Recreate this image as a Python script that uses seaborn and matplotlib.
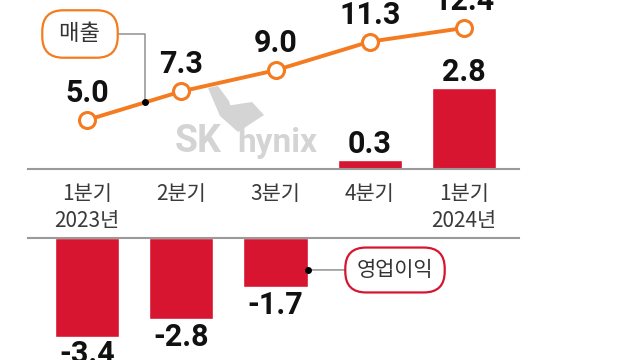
import numpy as np
import pandas as pd
import seaborn as sns
import matplotlib.pyplot as plt
from matplotlib.patches import Polygon

sns.set_style("white")
plt.rcParams["font.family"] = ["Noto Sans CJK KR", "DejaVu Sans"]

# Data (조원)
quarters = ["1분기\n2023년", "2분기", "3분기", "4분기", "1분기\n2024년"]
sales = [5.0, 7.3, 9.0, 11.3, 12.4]        # 매출
op_profit = [-3.4, -2.8, -1.7, 0.3, 2.8]   # 영업이익

ORANGE = "#F47B20"
RED = "#D71530"
AXIS_GRAY = "#9a9a9a"
NUM_FONT = ["Roboto", "DejaVu Sans"]
W, H = 640, 360


def fx(x):
    return x / W


def fy(y):
    return 1 - y / H


df = pd.DataFrame({"quarter": quarters, "sales": sales, "profit": op_profit})

fig = plt.figure(figsize=(6.4, 3.6), dpi=100)
fig.patch.set_facecolor("white")

# layout in pixels of the original graphic
left, right = 28, 519
base_top, base_bot = 169, 238
unit = 29  # px per 1조 for the bars
step = 94.25
x0 = 87
xlim = ((left - x0) / step, (right - x0) / step)

ax_top = fig.add_axes([fx(left), fy(base_top), (right - left) / W, base_top / H])
ax_bot = fig.add_axes([fx(left), 0, (right - left) / W, (H - base_bot) / H])

# watermark logo behind everything
wm = "#d4d4d4"
fig.text(fx(175), fy(152), "SK", color=wm, fontsize=27, fontweight="bold",
         family=NUM_FONT, va="baseline", ha="left", zorder=-2)
fig.text(fx(237), fy(152), "hynix", color=wm, fontsize=24, fontweight="bold",
         family=NUM_FONT, va="baseline", ha="left", zorder=-2)
for pts in ([(208, 88), (218, 86), (229, 101), (238, 132), (220, 116)],
            [(226, 106), (252, 102), (264, 115), (238, 132)]):
    fig.patches.append(Polygon([(fx(a), fy(b)) for a, b in pts], closed=True,
                               transform=fig.transFigure, fc=wm, ec="none", zorder=-2))

for ax in (ax_top, ax_bot):
    ax.set_facecolor("none")
    sns.barplot(data=df, x="quarter", y="profit", color=RED, saturation=1,
                width=0.68, ax=ax, zorder=2)
    ax.set_xlim(*xlim)
    ax.set_xlabel("")
    ax.set_ylabel("")
    ax.set_yticks([])
    for s in ax.spines.values():
        s.set_visible(False)

ax_top.set_ylim(0, base_top / unit)
ax_bot.set_ylim(-(H - base_bot) / unit, 0)

ax_top.spines["bottom"].set_visible(True)
ax_top.spines["bottom"].set_color(AXIS_GRAY)
ax_top.spines["bottom"].set_linewidth(1.5)
ax_bot.spines["top"].set_visible(True)
ax_bot.spines["top"].set_color(AXIS_GRAY)
ax_bot.spines["top"].set_linewidth(1.5)

ax_top.tick_params(axis="x", length=0, pad=10, labelsize=15, labelcolor="#3a3a3a")
for lbl in ax_top.get_xticklabels():
    lbl.set_linespacing(1.3)
ax_bot.set_xticks([])

# bar value labels
for i, v in enumerate(op_profit):
    if v >= 0:
        ax_top.annotate(f"{v:.1f}", (i, v), xytext=(0, 5), textcoords="offset points",
                        ha="center", va="baseline", fontsize=22, fontweight="bold",
                        family=NUM_FONT, color="#111111")
    else:
        ax_bot.annotate(f"{v:.1f}", (i, v), xytext=(0, -2), textcoords="offset points",
                        ha="center", va="top", fontsize=22, fontweight="bold",
                        family=NUM_FONT, color="#111111")

# sales line
ax_line = ax_top.twinx()
sns.lineplot(x=np.arange(len(sales)), y=sales, ax=ax_line, color=ORANGE, lw=2.8,
             marker="o", markersize=11.5, markerfacecolor="white",
             markeredgecolor=ORANGE, markeredgewidth=2.2)
ax_line.set_xlim(*xlim)
ax_line.set_ylim(1.06, 14.65)
ax_line.axis("off")
for i, v in enumerate(sales):
    ax_line.annotate(f"{v:.1f}", (i, v), xytext=(0, 13), textcoords="offset points",
                     ha="center", va="baseline", fontsize=22, fontweight="bold",
                     family=NUM_FONT, color="#111111", annotation_clip=False)

# callouts
t = 0.615
y_on = sales[0] + t * (sales[1] - sales[0])
ax_line.annotate(" 매출 ", (t, y_on), xytext=(80, H - 34), textcoords="figure pixels",
                 ha="center", va="center", fontsize=16, color="#333333",
                 bbox=dict(boxstyle="round,pad=0.55,rounding_size=0.95", fc="white",
                           ec=ORANGE, lw=1.6),
                 arrowprops=dict(arrowstyle="-", color=AXIS_GRAY, lw=1.2, shrinkA=0, shrinkB=0,
                                 connectionstyle="angle,angleA=0,angleB=90,rad=0"))
ax_line.plot([t], [y_on], "o", color="black", ms=4, zorder=5)

px = 2 + 0.34
ax_bot.annotate("영업이익", (px, -1.1), xytext=(395, H - 270), textcoords="figure pixels",
                ha="center", va="center", fontsize=15, color="#333333",
                bbox=dict(boxstyle="round,pad=0.55,rounding_size=1.0", fc="white",
                          ec=RED, lw=1.6),
                arrowprops=dict(arrowstyle="-", color=AXIS_GRAY, lw=1.2, shrinkA=0, shrinkB=0))
ax_bot.plot([px], [-1.1], "o", color="black", ms=4, zorder=5, clip_on=False)

fig.savefig("out.png", dpi=100)
